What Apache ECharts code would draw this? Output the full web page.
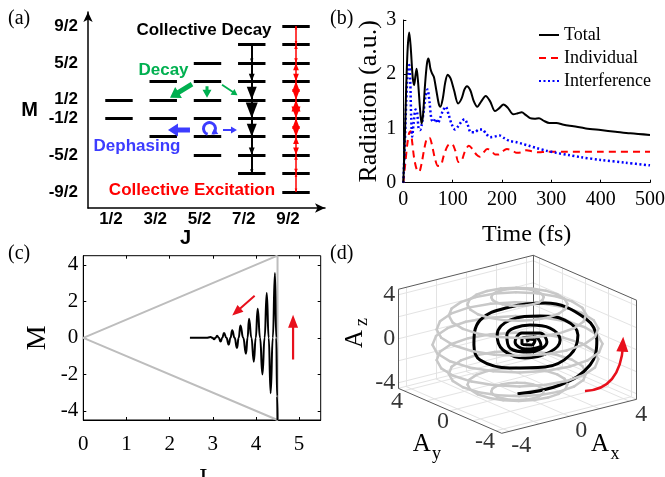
<!DOCTYPE html>
<html>
<head>
<meta charset="utf-8">
<script src="https://cdn.jsdelivr.net/npm/echarts@6.0.0/dist/echarts.min.js"></script>
<style>
html,body{margin:0;padding:0;background:#fff;}
#chart{width:665px;height:477px;}
</style>
</head>
<body>
<div id="chart"></div>
<script>
// ---------- (a) angular-momentum level scheme ----------
const jValues = [0.5, 1.5, 2.5, 3.5, 4.5];
const jLabels = ['1/2', '3/2', '5/2', '7/2', '9/2'];
const mTickValues = [4.5, 2.5, 0.5, -0.5, -2.5, -4.5];
const mTickLabels = ['9/2', '5/2', '1/2', '-1/2', '-5/2', '-9/2'];
// squared lowering-operator elements (J+M)(J-M+1), from the top level downwards
const cascadeJ = 3.5;
const cascadeRates = [7, 12, 15, 16, 15, 12, 7];
const ladderJ = 4.5;
const ladderRates = [9, 16, 21, 24, 25, 24, 21, 16, 9];
// annotation arrows, [fromJ, fromM, toJ, toM]
const decayArrows = [[2.15, 1.345, 1.653, 0.615], [2.489, 1.237, 2.489, 0.615], [2.828, 1.318, 3.178, 0.75]];
const dephaseArrows = [[2.104, -1.144, 1.607, -1.144], [2.85, -1.144, 3.166, -1.144]];
const dephaseCurl = [2.545, -1.063];

// ---------- (b) radiation vs time, [t (fs), value] ----------
const totalRadiation = [[0,0],[3,0.8],[6,1.8],[9,2.5],[12,2.77],[15,2.5],[19,1.95],[22,1.8],[25,2.0],[27,2.1],[30,1.85],[34,1.35],[37,1.09],[40,1.25],[44,1.8],[48,2.2],[51,2.29],[55,2.1],[58,2.02],[62,1.95],[67,1.7],[72,1.45],[75,1.4],[80,1.55],[85,1.85],[90,1.99],[96,1.92],[103,1.7],[111,1.46],[118,1.55],[124,1.72],[129,1.78],[136,1.7],[143,1.5],[150,1.4],[158,1.5],[167,1.6],[176,1.5],[186,1.32],[195,1.38],[203,1.44],[212,1.38],[223,1.26],[232,1.28],[240,1.3],[248,1.25],[257,1.19],[266,1.18],[275,1.19],[285,1.14],[296,1.1],[310,1.1],[325,1.07],[345,1.04],[370,1.0],[400,0.97],[430,0.94],[460,0.91],[500,0.88]];
const individualRadiation = [[0,0],[4,0.35],[8,0.7],[12,0.92],[15,0.95],[18,0.75],[22,0.45],[27,0.25],[32,0.2],[37,0.35],[42,0.6],[48,0.82],[53,0.83],[58,0.7],[64,0.45],[70,0.31],[76,0.32],[82,0.5],[90,0.68],[98,0.72],[105,0.6],[112,0.38],[118,0.4],[125,0.58],[133,0.68],[140,0.62],[148,0.52],[155,0.48],[162,0.55],[170,0.62],[178,0.6],[186,0.52],[193,0.52],[200,0.57],[210,0.62],[220,0.6],[230,0.55],[240,0.56],[250,0.6],[260,0.58],[275,0.56],[290,0.57],[320,0.57],[400,0.57],[500,0.57]];
const interferenceRadiation = [[0,0],[3,0.7],[6,1.5],[9,2.05],[12,2.17],[14,1.9],[16,1.2],[18,0.85],[21,1.1],[25,1.35],[28,1.3],[31,1.0],[34,0.97],[37,1.05],[41,1.3],[45,1.6],[49,1.72],[53,1.5],[57,1.17],[61,1.12],[65,1.18],[70,1.1],[75,1.2],[80,1.32],[86,1.4],[92,1.25],[98,1.08],[105,0.98],[112,1.05],[118,1.13],[124,1.17],[130,1.08],[137,0.93],[145,0.93],[153,0.98],[160,0.98],[168,0.9],[176,0.84],[185,0.85],[195,0.87],[205,0.82],[215,0.77],[228,0.75],[240,0.72],[255,0.68],[270,0.64],[290,0.59],[310,0.55],[335,0.51],[360,0.47],[400,0.42],[450,0.37],[500,0.32]];

// ---------- (c) trajectory in the (J, M) plane ----------
const coneJ = [4.5, 0, 4.5, 4.5];
const coneM = [4.5, 0, -4.5, 4.5];
const trajJ = [4.5, 4.49, 4.47, 4.44, 4.39, 4.34, 4.295, 4.25, 4.2, 4.15, 4.095, 4.04, 3.995, 3.95, 3.895, 3.84, 3.805, 3.77, 3.705, 3.64, 3.6, 3.56, 3.505, 3.45, 3.41, 3.37, 3.315, 3.26, 3.22, 3.18, 3.14, 3.1, 3.065, 3.03, 2.99, 2.95, 2.85, 2.47];
const trajM = [-4.5, -3.2, 0, 3.55, 0, -3.04, 0, 2.45, 0, -2.0, 0, 1.6, 0, -1.31, 0, 1.05, 0, -0.87, 0, 0.67, 0, -0.55, 0, 0.41, 0, -0.37, 0, 0.27, 0, -0.2, 0, 0.12, 0, -0.08, 0, 0.04, 0, 0];
const cArrows = [[3.97, 2.31, 3.45, 1.22], [4.86, -1.18, 4.86, 1.27]];

// ---------- (d) trajectory of (Ax, Ay, Az) ----------
const sphereRadius = 4.5;
const ringLevels = [4.28, 3.64, 2.65, 1.39, 0, -1.39, -2.65, -3.64, -4.28];
const spiralAx = [0, 1.80, 3.06, 3.35, 2.85, 1.17, -0.32, -1.58, -1.84, -1.58, -0.32, 1.17, 2.22, 2.55, 2.00, 0.95, -0.32, -0.86, -0.61, 0.32, 1.37, 1.80, 1.37, 0.53, -0.45, -0.32, 0.53, 1.24, 0.95, 0.19, -0.10, 0.32, 0.99, 0.74, 0.19, 0.19, 0.61, 0.74, 0.40, 0.45];
const spiralAy = [0, -1.36, -2.32, -2.53, -2.15, -0.88, 0.24, 1.19, 1.39, 1.19, 0.24, -0.88, -1.68, -1.93, -1.51, -0.72, 0.24, 0.65, 0.46, -0.24, -1.04, -1.36, -1.04, -0.40, 0.34, 0.24, -0.40, -0.94, -0.72, -0.14, 0.08, -0.24, -0.75, -0.56, -0.14, -0.14, -0.46, -0.56, -0.30, -0.34];
const spiralAz = [-4.5, -3.7, -1.88, 0.39, 2.39, 3.75, 3.39, 2.2, -0.06, -1.43, -2.15, -2.06, -0.97, 0.85, 2.2, 2.57, 2.2, 0.85, -0.52, -1.25, -0.7, 0.39, 1.48, 1.75, 0.85, -0.34, -0.7, 0.21, 1.03, 1.03, 0.21, -0.43, -0.06, 0.66, 0.57, 0.03, -0.06, 0.39, 0.48, 0.2];
const gridTicks3d = [-4, -2, 0, 2, 4];
const labelTicks3d = [-4, 0, 4];
const rotationArrow3d = [[1.05, -4.5, -2.56], [3.39, -4.5, -3.27], [3.6, -4.5, 1.5]];

// ---------- helpers ----------
const SERIF = '"Liberation Serif","Times New Roman",serif';
const SANS = '"Liberation Sans",Arial,sans-serif';
const BOX = 4.5;
// oblique view of the 3D box: screen offset per unit of Ax, Ay, Az
const CAM = { ax: [15, 3.78], ay: [-11.49, 5], az: [0, 11] };
function P(a) {
  return [CAM.ax[0] * a[0] + CAM.ay[0] * a[1] + CAM.az[0] * a[2],
          CAM.ax[1] * a[0] + CAM.ay[1] * a[1] + CAM.az[1] * a[2]];
}
function arrowPolygon(p0, p1, s, hw, hl) {
  const dx = p1[0] - p0[0], dy = p1[1] - p0[1];
  const L = Math.hypot(dx, dy) || 1;
  const ux = dx / L, uy = dy / L, nx = -uy, ny = ux;
  const bx = p1[0] - ux * hl, by = p1[1] - uy * hl;
  return [
    [p0[0] + nx * s / 2, p0[1] + ny * s / 2],
    [bx + nx * s / 2, by + ny * s / 2],
    [bx + nx * hw / 2, by + ny * hw / 2],
    [p1[0], p1[1]],
    [bx - nx * hw / 2, by - ny * hw / 2],
    [bx - nx * s / 2, by - ny * s / 2],
    [p0[0] - nx * s / 2, p0[1] - ny * s / 2]
  ];
}
function arrowSeries(xi, yi, arrows, styles, color, z) {
  return {
    type: 'custom', xAxisIndex: xi, yAxisIndex: yi, z: z, silent: true, clip: false,
    data: arrows,
    renderItem: function (params, api) {
      const st = styles[params.dataIndex];
      const p0 = api.coord([api.value(0), api.value(1)]);
      const p1 = api.coord([api.value(2), api.value(3)]);
      return { type: 'polygon', shape: { points: arrowPolygon(p0, p1, st.s, st.hw, st.hl) }, style: { fill: color } };
    }
  };
}

// (a) level bars
const BAR_HALF = 0.31;
const levelLines = [];
jValues.forEach(function (j) {
  for (let m = j; m >= -j - 1e-9; m -= 1) levelLines.push({ coords: [[j - BAR_HALF, m], [j + BAR_HALF, m]] });
});
const cascadeData = cascadeRates.map(function (r, i) { return [cascadeJ, cascadeJ - i, r]; });
const ladderData = ladderRates.map(function (r, i) { return [ladderJ, ladderJ - i, r]; });

// (d) box, walls and sphere rings
const wallLines = [];
gridTicks3d.forEach(function (t) {
  wallLines.push({ coords: [P([t, BOX, -BOX]), P([t, BOX, BOX])] });
  wallLines.push({ coords: [P([-BOX, BOX, t]), P([BOX, BOX, t])] });
  wallLines.push({ coords: [P([BOX, t, -BOX]), P([BOX, t, BOX])] });
  wallLines.push({ coords: [P([BOX, -BOX, t]), P([BOX, BOX, t])] });
  wallLines.push({ coords: [P([t, -BOX, -BOX]), P([t, BOX, -BOX])] });
  wallLines.push({ coords: [P([-BOX, t, -BOX]), P([BOX, t, -BOX])] });
});
wallLines.push({ coords: [P([-BOX, BOX, -BOX]), P([BOX, BOX, -BOX])] });
wallLines.push({ coords: [P([BOX, BOX, -BOX]), P([BOX, -BOX, -BOX])] });
const boxEdges = [
  [[-BOX, BOX, -BOX], [-BOX, BOX, BOX]], [[BOX, BOX, -BOX], [BOX, BOX, BOX]], [[BOX, -BOX, -BOX], [BOX, -BOX, BOX]],
  [[-BOX, BOX, BOX], [BOX, BOX, BOX]], [[BOX, BOX, BOX], [BOX, -BOX, BOX]],
  [[-BOX, BOX, -BOX], [-BOX, -BOX, -BOX]], [[-BOX, -BOX, -BOX], [BOX, -BOX, -BOX]]
].map(function (e) { return { coords: [P(e[0]), P(e[1])] }; });
const RING_SEG = 20;
const ringsFront = [], ringsBack = [];
ringLevels.forEach(function (z) {
  const r = Math.sqrt(sphereRadius * sphereRadius - z * z);
  for (let k = 0; k < RING_SEG; k++) {
    const t0 = 2 * Math.PI * k / RING_SEG, t1 = 2 * Math.PI * (k + 1) / RING_SEG, tm = (t0 + t1) / 2;
    const seg = { coords: [P([r * Math.cos(t0), r * Math.sin(t0), z]), P([r * Math.cos(t1), r * Math.sin(t1), z])] };
    const front = CAM.ax[1] * Math.cos(tm) + CAM.ay[1] * Math.sin(tm) < 0;
    (front ? ringsFront : ringsBack).push(seg);
  }
});
const spiral2d = spiralAx.map(function (x, i) { return P([x, spiralAy[i], spiralAz[i]]); });
const rotArrow2d = [].concat(P(rotationArrow3d[0]), P(rotationArrow3d[1]), P(rotationArrow3d[2]));

const tickLabels3d = [];
labelTicks3d.forEach(function (t) {
  tickLabels3d.push({ value: P([-BOX, BOX, t]), label: { formatter: String(t), align: 'right', offset: [-3, 0] } });
  tickLabels3d.push({ value: P([-BOX, t, -BOX]), label: { formatter: String(t), align: 'right', offset: [-1, 11] } });
  tickLabels3d.push({ value: P([t, -BOX, -BOX]), label: { formatter: String(t), align: 'center', offset: [12, 14] } });
});

const chart = echarts.init(document.getElementById('chart'));

const tickText = function (size) { return { color: '#000', fontFamily: SERIF, fontSize: size }; };

const option = {
  animation: false,
  backgroundColor: '#fff',
  legend: {
    data: ['Total', 'Individual', 'Interference'],
    orient: 'vertical', left: 533, top: 21,
    itemWidth: 20, itemHeight: 14, itemGap: 5,
    itemStyle: { opacity: 0 },
    textStyle: { color: '#000', fontFamily: SERIF, fontSize: 18, lineHeight: 18 }
  },
  grid: [
    { left: 88, top: 12, width: 237, height: 196, outerBoundsMode: 'none', containLabel: false },
    { left: 403.3, top: 20, width: 246.7, height: 162.7, outerBoundsMode: 'none', containLabel: false },
    { left: 83.3, top: 255.7, width: 237.4, height: 164.3, outerBoundsMode: 'none', containLabel: false,
      show: true, borderColor: '#000', borderWidth: 1, backgroundColor: 'transparent' },
    { left: 397.5, top: 244.3, width: 240, height: 200, outerBoundsMode: 'none', containLabel: false }
  ],
  xAxis: [
    { type: 'value', gridIndex: 0, min: -0.2, max: 5.155,
      axisLine: { show: true, onZero: false, symbol: ['none', 'arrow'], symbolSize: [7, 10], lineStyle: { color: '#000', width: 1.5 } },
      axisTick: { show: false }, splitLine: { show: false },
      axisLabel: { customValues: jValues, formatter: function (v) { return jLabels[jValues.indexOf(v)]; },
        margin: 3, color: '#000', fontFamily: SANS, fontWeight: 'bold', fontSize: 17, padding: [0, 16, 0, 0] },
      name: 'J', nameLocation: 'middle', nameGap: 20,
      nameTextStyle: { color: '#000', fontFamily: SANS, fontWeight: 'bold', fontSize: 20, padding: [0, 42, 0, 0] } },
    { type: 'value', gridIndex: 1, min: 0, max: 500, interval: 100,
      axisLine: { show: true, onZero: false, lineStyle: { color: '#000', width: 1 } },
      axisTick: { show: true, inside: true, length: 3, lineStyle: { color: '#000' } },
      splitLine: { show: false }, axisLabel: Object.assign({ margin: 7 }, tickText(20)),
      name: 'Time (fs)', nameLocation: 'middle', nameGap: 40,
      nameTextStyle: { color: '#000', fontFamily: SERIF, fontSize: 24 } },
    { type: 'value', gridIndex: 2, min: 0, max: 5.5,
      axisLine: { show: true, onZero: false, lineStyle: { color: '#000', width: 1 } },
      axisTick: { show: true, inside: true, length: 3, customValues: [0, 1, 2, 3, 4, 5], lineStyle: { color: '#000' } },
      splitLine: { show: false }, axisLabel: Object.assign({ margin: 14, customValues: [0, 1, 2, 3, 4, 5] }, tickText(21)),
      name: 'J', nameLocation: 'middle', nameGap: 46,
      nameTextStyle: { color: '#000', fontFamily: SERIF, fontSize: 26 } },
    { type: 'value', gridIndex: 2, min: 0, max: 5.5, position: 'top',
      axisLine: { show: false, onZero: false }, axisLabel: { show: false }, splitLine: { show: false },
      axisTick: { show: true, inside: true, length: 3, customValues: [0, 1, 2, 3, 4, 5], lineStyle: { color: '#000' } } },
    { type: 'value', gridIndex: 3, min: -120, max: 120, show: false }
  ],
  yAxis: [
    { type: 'value', gridIndex: 0, min: -5.37, max: 5.26,
      axisLine: { show: true, onZero: false, symbol: ['none', 'arrow'], symbolSize: [7, 10], lineStyle: { color: '#000', width: 1.5 } },
      axisTick: { show: false }, splitLine: { show: false },
      axisLabel: { customValues: mTickValues, formatter: function (v) { return mTickLabels[mTickValues.indexOf(v)]; },
        margin: 10, color: '#000', fontFamily: SANS, fontWeight: 'bold', fontSize: 17 },
      name: 'M', nameLocation: 'middle', nameRotate: 0, nameGap: 50,
      nameTextStyle: { color: '#000', fontFamily: SANS, fontWeight: 'bold', fontSize: 20 } },
    { type: 'value', gridIndex: 1, min: 0, max: 3, interval: 1,
      axisLine: { show: true, onZero: false, lineStyle: { color: '#000', width: 1 } },
      axisTick: { show: true, inside: true, length: 3, lineStyle: { color: '#000' } },
      splitLine: { show: false }, axisLabel: Object.assign({ margin: 7 }, tickText(20)),
      name: 'Radiation (a.u.)', nameLocation: 'middle', nameGap: 18,
      nameTextStyle: { color: '#000', fontFamily: SERIF, fontSize: 26 } },
    { type: 'value', gridIndex: 2, min: -4.5, max: 4.5,
      axisLine: { show: true, onZero: false, lineStyle: { color: '#000', width: 1 } },
      axisTick: { show: true, inside: true, length: 3, customValues: [-4, -2, 0, 2, 4], lineStyle: { color: '#000' } },
      splitLine: { show: false }, axisLabel: Object.assign({ margin: 5, customValues: [-4, -2, 0, 2, 4] }, tickText(21)),
      name: 'M', nameLocation: 'middle', nameGap: 32,
      nameTextStyle: { color: '#000', fontFamily: SERIF, fontSize: 28 } },
    { type: 'value', gridIndex: 2, min: -4.5, max: 4.5, position: 'right',
      axisLine: { show: false, onZero: false }, axisLabel: { show: false }, splitLine: { show: false },
      axisTick: { show: true, inside: true, length: 3, customValues: [-4, -2, 0, 2, 4], lineStyle: { color: '#000' } } },
    { type: 'value', gridIndex: 3, min: -100, max: 100, show: false }
  ],
  series: [
    // ----- (a) -----
    { type: 'lines', coordinateSystem: 'cartesian2d', xAxisIndex: 0, yAxisIndex: 0, z: 3, silent: true,
      data: levelLines, lineStyle: { color: '#000', width: 3, opacity: 1 } },
    { type: 'lines', coordinateSystem: 'cartesian2d', xAxisIndex: 0, yAxisIndex: 0, z: 3, silent: true,
      data: [{ coords: [[cascadeJ, cascadeJ], [cascadeJ, -cascadeJ]] }], lineStyle: { color: '#000', width: 2, opacity: 1 } },
    { type: 'lines', coordinateSystem: 'cartesian2d', xAxisIndex: 0, yAxisIndex: 0, z: 3, silent: true,
      data: [{ coords: [[ladderJ, ladderJ], [ladderJ, -ladderJ]] }], lineStyle: { color: '#ff0000', width: 1.5, opacity: 1 } },
    { type: 'custom', xAxisIndex: 0, yAxisIndex: 0, z: 4, silent: true, clip: false, data: cascadeData,
      renderItem: function (params, api) {
        const b = api.coord([api.value(0), api.value(1) - 1]);
        const k = Math.pow(api.value(2) / 16, 4);
        const w = 3 + 9 * k, h = w * 1.3;
        return { type: 'polygon', shape: { points: [[b[0] - w / 2, b[1] - h], [b[0] + w / 2, b[1] - h], [b[0], b[1]]] }, style: { fill: '#000' } };
      } },
    { type: 'custom', xAxisIndex: 0, yAxisIndex: 0, z: 4, silent: true, clip: false, data: ladderData,
      renderItem: function (params, api) {
        const t = api.coord([api.value(0), api.value(1)]);
        const b = api.coord([api.value(0), api.value(1) - 1]);
        const k = Math.pow(api.value(2) / 25, 4);
        const w = 2.5 + 6.5 * k, h = w * 1.3;
        return { type: 'group', children: [
          { type: 'polygon', shape: { points: [[t[0] - w / 2, t[1] + h], [t[0] + w / 2, t[1] + h], [t[0], t[1]]] }, style: { fill: '#ff0000' } },
          { type: 'polygon', shape: { points: [[b[0] - w / 2, b[1] - h], [b[0] + w / 2, b[1] - h], [b[0], b[1]]] }, style: { fill: '#ff0000' } }
        ] };
      } },
    arrowSeries(0, 0, decayArrows, [{ s: 5, hw: 13, hl: 10 }, { s: 3, hw: 9, hl: 8 }, { s: 1.8, hw: 7, hl: 6 }], '#00b050', 5),
    arrowSeries(0, 0, dephaseArrows, [{ s: 5, hw: 13, hl: 10 }, { s: 2, hw: 7, hl: 6 }], '#3c3cff', 5),
    { type: 'custom', xAxisIndex: 0, yAxisIndex: 0, z: 5, silent: true, clip: false, data: [dephaseCurl],
      renderItem: function (params, api) {
        const c = api.coord([api.value(0), api.value(1)]);
        const r = 6, a1 = Math.PI * 2.3;
        const e = [c[0] + r * Math.cos(a1), c[1] + r * Math.sin(a1)];
        const d = [-Math.sin(a1), Math.cos(a1)];
        return { type: 'group', children: [
          { type: 'arc', shape: { cx: c[0], cy: c[1], r: r, startAngle: Math.PI * 0.6, endAngle: a1, clockwise: true },
            style: { stroke: '#3c3cff', lineWidth: 3, fill: null } },
          { type: 'polygon', shape: { points: arrowPolygon([e[0] - d[0] * 6, e[1] - d[1] * 6], [e[0] + d[0] * 2, e[1] + d[1] * 2], 0, 7, 6) }, style: { fill: '#3c3cff' } }
        ] };
      } },
    // ----- (b) -----
    { name: 'Total', type: 'line', xAxisIndex: 1, yAxisIndex: 1, data: totalRadiation, smooth: 0.3,
      symbol: 'none', lineStyle: { color: '#000', width: 2 }, itemStyle: { color: '#000' }, z: 4 },
    { name: 'Individual', type: 'line', xAxisIndex: 1, yAxisIndex: 1, data: individualRadiation, smooth: 0.3,
      symbol: 'none', lineStyle: { color: '#ff0000', width: 2, type: [7, 5] }, itemStyle: { color: '#ff0000' }, z: 3 },
    { name: 'Interference', type: 'line', xAxisIndex: 1, yAxisIndex: 1, data: interferenceRadiation, smooth: 0.3,
      symbol: 'none', lineStyle: { color: '#0000ff', width: 2.5, type: [2, 2.5] }, itemStyle: { color: '#0000ff' }, z: 3 },
    // ----- (c) -----
    { type: 'line', xAxisIndex: 2, yAxisIndex: 2, data: coneJ.map(function (j, i) { return [j, coneM[i]]; }),
      symbol: 'none', lineStyle: { color: '#bdbdbd', width: 2 }, z: 2, silent: true },
    { type: 'line', xAxisIndex: 2, yAxisIndex: 2, data: trajJ.map(function (j, i) { return [j, trajM[i]]; }),
      symbol: 'none', smooth: 0.5, smoothMonotone: 'x', lineStyle: { color: '#000', width: 2 }, z: 3, silent: true },
    arrowSeries(2, 2, cArrows, [{ s: 2, hw: 9, hl: 11 }, { s: 2.2, hw: 10, hl: 13 }], '#e8101c', 5),
    // ----- (d) -----
    { type: 'lines', coordinateSystem: 'cartesian2d', xAxisIndex: 4, yAxisIndex: 4, z: 1, silent: true,
      data: wallLines, lineStyle: { color: '#e3e3e3', width: 1, opacity: 1 } },
    { type: 'lines', coordinateSystem: 'cartesian2d', xAxisIndex: 4, yAxisIndex: 4, z: 2, silent: true,
      data: boxEdges, lineStyle: { color: '#5a5a5a', width: 1, opacity: 1 } },
    { type: 'lines', coordinateSystem: 'cartesian2d', xAxisIndex: 4, yAxisIndex: 4, z: 3, silent: true,
      data: ringsBack, lineStyle: { color: '#c8c8c8', width: 2.5, opacity: 1, cap: 'round' } },
    { type: 'line', xAxisIndex: 4, yAxisIndex: 4, z: 4, silent: true, data: spiral2d, smooth: 0.4,
      symbol: 'none', lineStyle: { color: '#000', width: 3 } },
    { type: 'lines', coordinateSystem: 'cartesian2d', xAxisIndex: 4, yAxisIndex: 4, z: 5, silent: true,
      data: ringsFront, lineStyle: { color: '#c8c8c8', width: 2.5, opacity: 1, cap: 'round' } },
    { type: 'custom', xAxisIndex: 4, yAxisIndex: 4, z: 6, silent: true, clip: false, data: [rotArrow2d],
      renderItem: function (params, api) {
        const p0 = api.coord([api.value(0), api.value(1)]);
        const pc = api.coord([api.value(2), api.value(3)]);
        const p1 = api.coord([api.value(4), api.value(5)]);
        return { type: 'group', children: [
          { type: 'bezierCurve', shape: { x1: p0[0], y1: p0[1], cpx1: pc[0], cpy1: pc[1], x2: p1[0], y2: p1[1] + 8 },
            style: { stroke: '#e8101c', lineWidth: 2.5, fill: null } },
          { type: 'polygon', shape: { points: arrowPolygon(pc, p1, 0, 12, 15) }, style: { fill: '#e8101c' } }
        ] };
      } },
    { type: 'scatter', xAxisIndex: 4, yAxisIndex: 4, z: 7, silent: true, symbolSize: 0, clip: false,
      data: tickLabels3d,
      label: { show: true, position: 'inside', color: '#000', fontFamily: SERIF, fontSize: 24 } }
  ],
  graphic: [
    { type: 'text', x: 8, y: 19, style: { text: '(a)', fill: '#000', font: '20px ' + SERIF, verticalAlign: 'middle' } },
    { type: 'text', x: 330, y: 19, style: { text: '(b)', fill: '#000', font: '20px ' + SERIF, verticalAlign: 'middle' } },
    { type: 'text', x: 8, y: 254, style: { text: '(c)', fill: '#000', font: '20px ' + SERIF, verticalAlign: 'middle' } },
    { type: 'text', x: 330, y: 254, style: { text: '(d)', fill: '#000', font: '20px ' + SERIF, verticalAlign: 'middle' } },
    { type: 'text', x: 204, y: 30, style: { text: 'Collective Decay', fill: '#000', font: 'bold 17px ' + SANS, align: 'center', verticalAlign: 'middle' } },
    { type: 'text', x: 163.5, y: 70, style: { text: 'Decay', fill: '#00b050', font: 'bold 17px ' + SANS, align: 'center', verticalAlign: 'middle' } },
    { type: 'text', x: 137, y: 146, style: { text: 'Dephasing', fill: '#3c3cff', font: 'bold 17px ' + SANS, align: 'center', verticalAlign: 'middle' } },
    { type: 'text', x: 192, y: 190, style: { text: 'Collective Excitation', fill: '#ff0000', font: 'bold 17px ' + SANS, align: 'center', verticalAlign: 'middle' } },
    { type: 'text', x: 600, y: 444, style: { text: 'A', fill: '#000', font: '25px ' + SERIF, align: 'center', verticalAlign: 'middle' } },
    { type: 'text', x: 615, y: 454, style: { text: 'x', fill: '#000', font: '18px ' + SERIF, align: 'center', verticalAlign: 'middle' } },
    { type: 'text', x: 421.7, y: 444, style: { text: 'A', fill: '#000', font: '25px ' + SERIF, align: 'center', verticalAlign: 'middle' } },
    { type: 'text', x: 436.5, y: 454, style: { text: 'y', fill: '#000', font: '18px ' + SERIF, align: 'center', verticalAlign: 'middle' } },
    { type: 'text', x: 355, y: 339, rotation: Math.PI / 2, style: { text: 'A', fill: '#000', font: '25px ' + SERIF, align: 'center', verticalAlign: 'middle' } },
    { type: 'text', x: 362, y: 322, rotation: Math.PI / 2, style: { text: 'z', fill: '#000', font: '18px ' + SERIF, align: 'center', verticalAlign: 'middle' } }
  ]
};
chart.setOption(option);
</script>
</body>
</html>
